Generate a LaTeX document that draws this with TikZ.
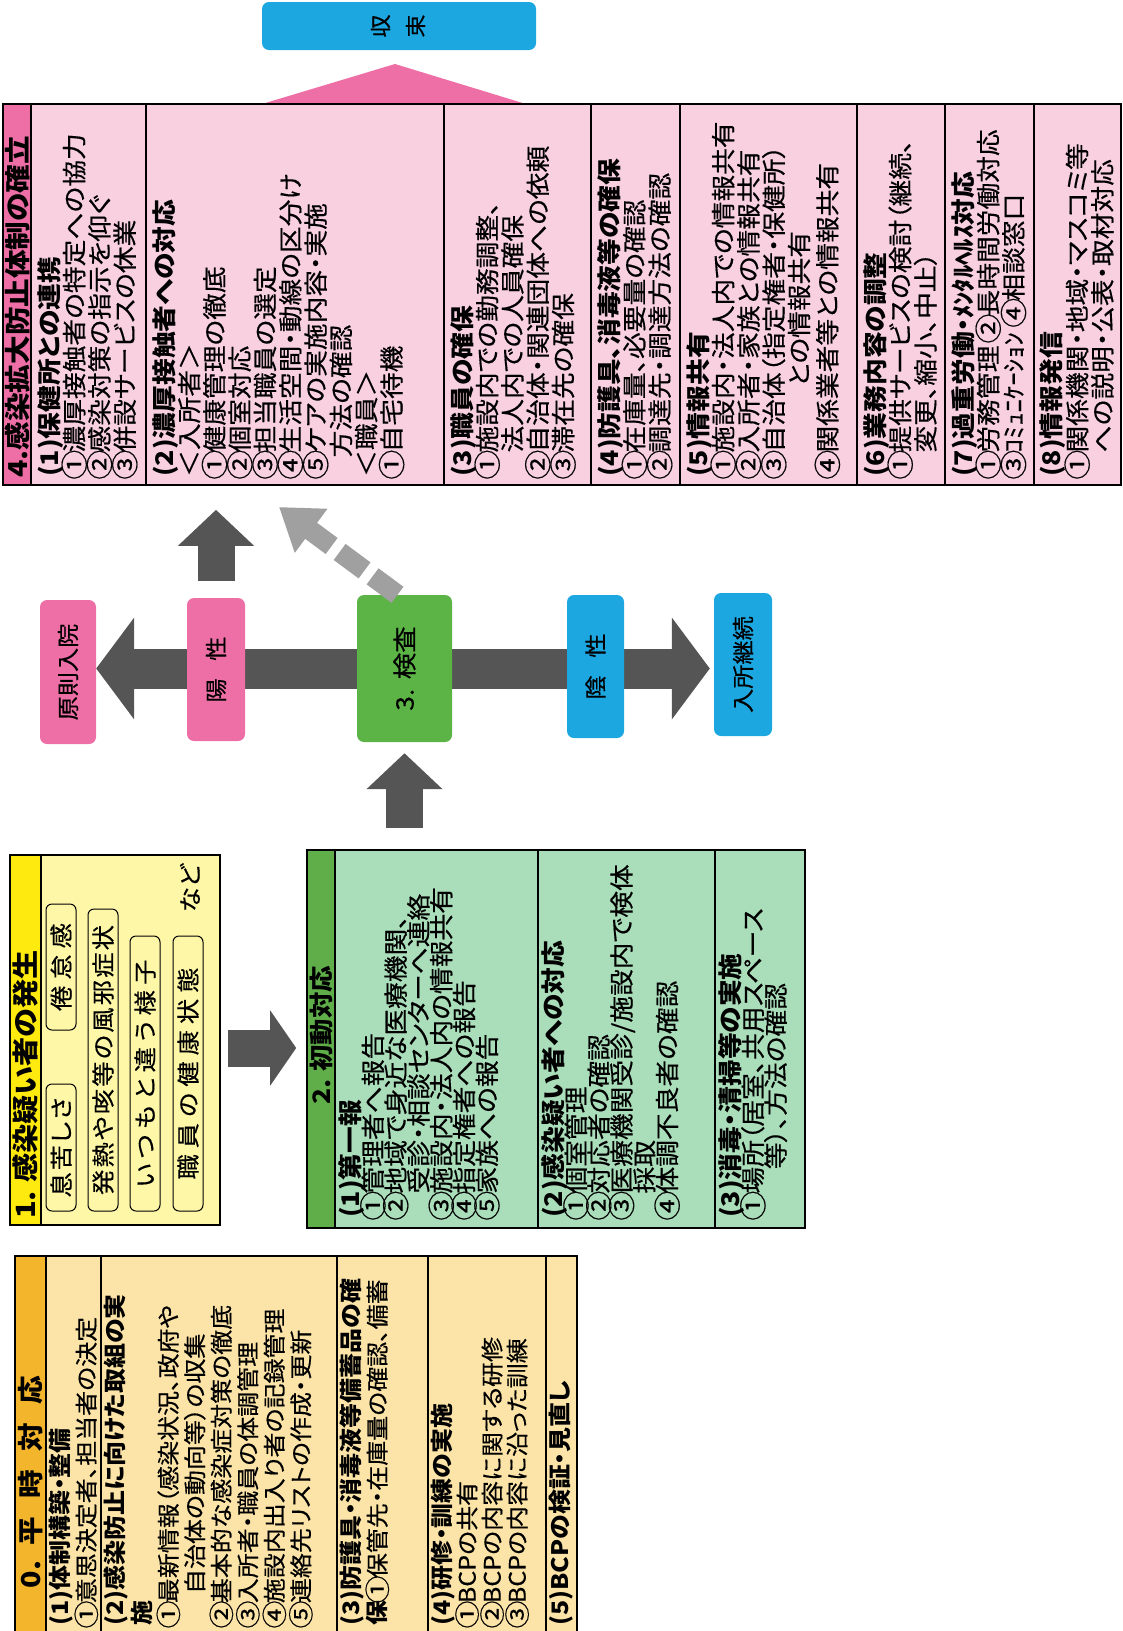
\documentclass[tikz,border=0pt]{standalone}
\usepackage{fontspec}
\usepackage{graphicx}
\setmainfont{Noto Sans CJK JP}[RawFeature=+palt, FakeStretch=1.1, UprightFeatures={FakeBold=0.4}]
\usetikzlibrary{arrows.meta, positioning, backgrounds}
\definecolor{pinkbg}{HTML}{F8D0E0}
\definecolor{pinkhd}{HTML}{EE6FA6}
\definecolor{skyblue}{HTML}{1CA7E1}
\definecolor{kensagreen}{HTML}{5CB346}
\definecolor{greenbg}{HTML}{AADDB9}
\definecolor{greenhd}{HTML}{5FAE49}
\definecolor{yellowbg}{HTML}{FEF7A8}
\definecolor{yellowhd}{HTML}{FFEA10}
\definecolor{creambg}{HTML}{FCE4A8}
\definecolor{orangehd}{HTML}{F3B52C}
\definecolor{arrowgray}{HTML}{555555}
\definecolor{dashgray}{HTML}{A0A0A0}
\newcommand{\vt}[1]{\rotatebox{90}{#1}}
\newcommand{\fsz}[2]{\fontsize{#1}{#2}\selectfont\lineskiplimit=-100pt}
\newcommand{\cn}[1]{\makebox[1em][c]{\raisebox{-0.05em}{\scalebox{1.12}{#1}}}}
\newcommand{\spread}[2]{\makebox[#1][s]{#2}}

\begin{document}
\begin{tikzpicture}[x=1pt, y=-1pt,
    frame/.style={draw=black, line width=1.6pt, inner sep=0pt},
    rule/.style={line width=1.4pt},
    pill/.style={rounded corners=7pt, inner sep=0pt},
    item/.style={draw=black, line width=1pt, rounded corners=6pt, inner sep=0pt, minimum width=30pt, font=\fsz{23}{24}},
    vtext/.style={rotate=90, anchor=north west, align=left, inner sep=0pt},
    vtitle/.style={rotate=90, inner sep=0pt, font=\fsz{26}{28}\bfseries},
    midarr/.style={arrowgray, line width=37pt, -{Triangle[length=#1, width=74pt]}},
    midarr/.default=36pt,
    bigarr/.style={arrowgray, line width=40pt, -{Triangle[length=38pt, width=100pt]}},
    dasharr/.style={dashgray, line width=20pt, dash pattern=on 31pt off 10pt, -{Triangle[length=40pt, width=52pt]}}
]
\useasboundingbox (0,0) rectangle (1123,1631);

\node[pill, fill=skyblue, minimum width=274pt, minimum height=48pt] (shusoku) at (399,26)
  {\vt{\fontsize{21}{35}\selectfont\begin{tabular}{@{}c@{}}収\\束\end{tabular}}};
\fill[pinkhd] (262,104) -- (395,64) -- (526,104) -- cycle;

\node[frame, fill=pinkbg, minimum width=1118pt, minimum height=381pt] (kakudai) at (562,294.5) {};
\fill[pinkhd] (3.8,104.8) rectangle (31,484.2);
\foreach \x in {31,146,444,591,680,857,945,1034}
  \draw[rule] (\x,104) -- (\x,485);
\node[vtitle, anchor=west] (kakudaiT) at (17,478) {4.感染拡大防止体制の確立};
\node[vtext, font=\fsz{24.3}{25.3}] (k1) at (37,477) {\textbf{(1)保健所との連携}\\\cn{①}濃厚接触者の特定への協力\\\cn{②}感染対策の指示を仰ぐ\\\cn{③}併設サービスの休業};
\node[vtext, font=\fsz{24.3}{25.3}] (k2) at (152,477) {\textbf{(2)濃厚接触者への対応}\\＜入所者＞\\\cn{①}健康管理の徹底\\\cn{②}個室対応\\\cn{③}担当職員の選定\\\cn{④}生活空間・動線の区分け\\\cn{⑤}ケアの実施内容・実施\\\hspace*{0.8em}方法の確認\\＜職員＞\\\cn{①}自宅待機};
\node[vtext, font=\fsz{24.3}{25.3}] (k3) at (450,477) {\textbf{(3)職員の確保}\\\cn{①}施設内での勤務調整、\\\hspace*{1em}法人内での人員確保\\\cn{②}自治体・関連団体への依頼\\\cn{③}滞在先の確保};
\node[vtext, font=\fsz{24.3}{25.3}] (k4) at (597,477) {\textbf{(4)防護具、消毒液等の確保}\\\cn{①}在庫量、必要量の確認\\\cn{②}調達先・調達方法の確認};
\node[vtext, font=\fsz{24.3}{25.3}] (k5) at (686,477) {\textbf{(5)情報共有}\\\cn{①}施設内・法人内での情報共有\\\cn{②}入所者・家族との情報共有\\\cn{③}自治体（指定権者・保健所）\\\hspace*{3.7em}との情報共有\\[3pt]\cn{④}関係業者等との情報共有};
\node[vtext, font=\fsz{24.3}{25.3}] (k6) at (863,477) {\textbf{(6)業務内容の調整}\\\cn{①}提供サービスの検討（継続、\\\hspace*{1em}変更、縮小、中止）};
\node[vtext, font=\fsz{24.3}{25.3}] (k7) at (951,477) {\textbf{(7)過重労働・ﾒﾝﾀﾙﾍﾙｽ対応}\\\makebox[5.6em][l]{\cn{①}労務管理}\cn{②}長時間労働対応\\\cn{③}ｺﾐｭﾆｹｰｼｮﾝ\hspace{0.3em}\cn{④}相談窓口};
\node[vtext, font=\fsz{24.3}{25.3}] (k8) at (1040,477) {\textbf{(8)情報発信}\\\cn{①}関係機関・地域・マスコミ等\\\hspace*{1em}への説明・公表・取材対応};

\node[pill, fill=pinkhd, minimum width=56pt, minimum height=144pt] (genso) at (68,672) {\vt{\fsz{22}{24}原則入院}};
\node[pill, fill=pinkhd, minimum width=58pt, minimum height=143pt] (yosei) at (216,669.5) {\vt{\fsz{22}{24}陽\hspace{0.8em}性}};
\node[pill, fill=kensagreen, minimum width=95pt, minimum height=147pt] (kensa) at (404.5,668.5) {\vt{\fsz{24}{26}3.\hspace{0.4em}検査}};
\node[pill, fill=skyblue, minimum width=57pt, minimum height=143pt] (insei) at (595.5,666.5) {\vt{\fsz{22}{24}陰\hspace{0.8em}性}};
\node[pill, fill=skyblue, minimum width=58pt, minimum height=143pt] (keizoku) at (743,664.5) {\vt{\fsz{22}{24}入所継続}};
\coordinate (dashtip) at (279,507);

\node[frame, fill=yellowbg, minimum width=210pt, minimum height=370pt] (hassei) at (115,1040) {};
\fill[yellowhd] (10.8,855.8) rectangle (41,1224.2);
\draw[rule] (41,855) -- (41,1225);
\node[vtitle, anchor=west, font=\fsz{26.5}{28}\bfseries] (hasseiT) at (25.5,1219) {1.\hspace{0.3em}感染疑い者の発生};
\node[item, minimum height=126pt] (kentai) at (61,967) {\vt{\spread{88pt}{倦\hfil 怠\hfil 感}}};
\node[item, minimum height=127pt] (ikigurushi) at (61,1147.5) {\vt{\spread{100pt}{息\hfil 苦\hfil し\hfil さ}}};
\node[item, minimum height=302pt] (kaze) at (103,1060) {\vt{\spread{270pt}{発\hfil 熱\hfil や\hfil 咳\hfil 等\hfil の\hfil 風\hfil 邪\hfil 症\hfil 状}}};
\node[item, minimum height=275pt] (yosu) at (145,1073.5) {\vt{\spread{228pt}{い\hfil つ\hfil も\hfil と\hfil 違\hfil う\hfil 様\hfil 子}}};
\node[item, minimum height=275pt] (shokuin) at (188,1073.5) {\vt{\spread{212pt}{職\hfil 員\hfil の\hfil 健\hfil 康\hfil 状\hfil 態}}};
\node[inner sep=0pt, font=\fsz{23}{26}] (nado) at (190,888) {\vt{など}};

\node[frame, fill=greenbg, minimum width=498pt, minimum height=378pt] (shodo) at (556,1039) {};
\fill[greenhd] (307.8,850.8) rectangle (335,1227.2);
\foreach \x in {335,538,715}
  \draw[rule] (\x,850) -- (\x,1228);
\node[vtitle, font=\fsz{24}{26}\bfseries] (shodoT) at (321,1035) {2.\hspace{0.3em}初動対応};
\node[vtext, font=\fsz{24.3}{22.8}] (s1) at (338,1218) {\textbf{(1)第一報}\\\cn{①}管理者へ報告\\\cn{②}地域で身近な医療機関、\\\hspace*{1em}受診・相談センターへ連絡\\\cn{③}施設内・法人内の情報共有\\\cn{④}指定権者への報告\\\cn{⑤}家族への報告};
\node[vtext, font=\fsz{24.3}{22.8}] (s2) at (541,1218) {\textbf{(2)感染疑い者への対応}\\\cn{①}個室管理\\\cn{②}対応者の確認\\\cn{③}医療機関受診/施設内で検体\\\hspace*{1em}採取\\\cn{④}体調不良者の確認};
\node[vtext, font=\fsz{24.3}{22.8}] (s3) at (718,1218) {\textbf{(3)消毒・清掃等の実施}\\\cn{①}場所（居室、共用スペース\\\hspace*{2em}等）、方法の確認};

\node[frame, fill=creambg, minimum width=562pt, minimum height=390pt] (heiji) at (296,1451) {};
\fill[orangehd] (15.8,1256.8) rectangle (46,1646);
\foreach \x in {46,101,337,428,546}
  \draw[rule] (\x,1256) -- (\x,1646);
\node[vtitle] (heijiT) at (31,1482) {0.\hspace{0.6em}平\hspace{0.7em}時\hspace{0.7em}対\hspace{0.7em}応};
\node[vtext, font=\fsz{22.7}{26}] (h1) at (49,1626) {\textbf{(1)体制構築・整備}\\\cn{①}意思決定者、担当者の決定};
\node[vtext, font=\fsz{22.7}{26.5}] (h2) at (104,1626) {\textbf{(2)感染防止に向けた取組の実}\\\textbf{施}\\\cn{①}最新情報（感染状況、政府や\\\hspace*{1.4em}自治体の動向等）の収集\\\cn{②}基本的な感染症対策の徹底\\\cn{③}入所者・職員の体調管理\\\cn{④}施設内出入り者の記録管理\\\cn{⑤}連絡先リストの作成・更新};
\node[vtext, font=\fsz{22.7}{26}] (h3) at (340,1626) {\textbf{(3)防護具・消毒液等備蓄品の確}\\\textbf{保}\cn{①}保管先・在庫量の確認、備蓄};
\node[vtext, font=\fsz{22.7}{25}] (h4) at (431,1626) {\textbf{(4)研修・訓練の実施}\\\cn{①}BCPの共有\\\cn{②}BCPの内容に関する研修\\\cn{③}BCPの内容に沿った訓練};
\node[vtext, font=\fsz{22.7}{26}] (h5) at (549,1626) {\textbf{(5)BCPの検証・見直し}};

\begin{scope}[on background layer]
\draw[bigarr] (kensa.west) -- (kensa.west -| genso.east);
\draw[bigarr] (kensa.east) -- ([xshift=-4pt]kensa.east -| keizoku.west);
\end{scope}
\draw[midarr] ([yshift=17pt]yosei.north) -- ([yshift=-24pt]yosei.north |- kakudai.south);
\draw[dasharr] ([xshift=-7pt]kensa.north) -- (dashtip);
\draw[midarr] ([yshift=21pt]kensa.south |- shodo.north) -- ([yshift=-11pt]kensa.south);
\draw[midarr=26pt] ([shift={(7pt,-8pt)}]hassei.east) -- ([shift={(-10pt,-8pt)}]hassei.east -| shodo.west);
\end{tikzpicture}
\end{document}
